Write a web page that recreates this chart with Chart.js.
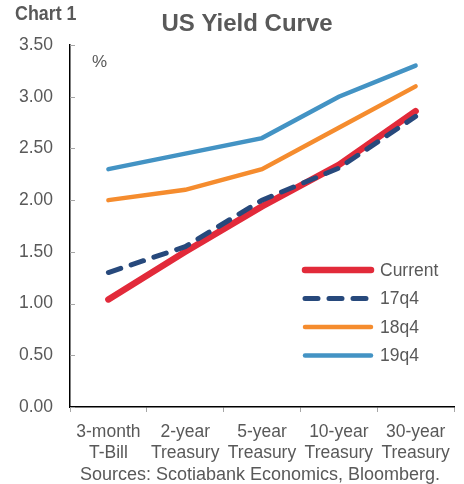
<!DOCTYPE html>
<html>
<head>
<meta charset="utf-8">
<script src="https://cdn.jsdelivr.net/npm/chart.js@4"></script>
<style>
  html, body { margin: 0; padding: 0; background: #fff; }
  #wrap { position: relative; width: 464px; height: 484px; }
</style>
</head>
<body>
<div id="wrap"><canvas id="yieldChart" width="464" height="484"></canvas></div>
<script>
// data
const tenors = [["3-month", "T-Bill"], ["2-year", "Treasury"], ["5-year", "Treasury"], ["10-year", "Treasury"], ["30-year", "Treasury"]];
const current = [1.04, 1.50, 1.94, 2.34, 2.86];
const q417 = [1.30, 1.55, 2.00, 2.31, 2.81];
const q418 = [2.00, 2.10, 2.30, 2.70, 3.10];
const q419 = [2.30, 2.45, 2.60, 3.00, 3.30];

const font = "'Liberation Sans', Arial, sans-serif";
const grey = "#595959";

// titles, % label, y tick marks and the legend inside the plot
const decorations = {
  id: "decorations",
  afterDraw(chart) {
    const ctx = chart.ctx;
    const area = chart.chartArea;
    const y = chart.scales.y;
    ctx.save();

    ctx.fillStyle = grey;
    ctx.textBaseline = "alphabetic";
    ctx.font = "bold 21px " + font;
    ctx.textAlign = "left";
    ctx.save();
    ctx.scale(0.85, 1);
    ctx.fillText("Chart 1", 15 / 0.85, 20);
    ctx.restore();

    ctx.font = "bold 24px " + font;
    ctx.textAlign = "center";
    ctx.fillText("US Yield Curve", 247, 31);

    ctx.font = "17px " + font;
    ctx.textAlign = "left";
    ctx.fillText("%", 92, 67);

    ctx.font = "18px " + font;
    ctx.textAlign = "center";
    ctx.fillText("Sources: Scotiabank Economics, Bloomberg.", 260, 480);

    // inward tick marks on the y axis
    ctx.strokeStyle = "#a6a6a6";
    ctx.lineWidth = 1;
    y.ticks.forEach((t) => {
      const py = Math.round(y.getPixelForValue(t.value)) + 0.5;
      ctx.beginPath();
      ctx.moveTo(area.left, py);
      ctx.lineTo(area.left + 5, py);
      ctx.stroke();
    });

    // legend
    ctx.font = "17.5px " + font;
    ctx.textAlign = "left";
    ctx.textBaseline = "middle";
    chart.data.datasets.forEach((ds, i) => {
      const ly = 270 + i * 28.5;
      ctx.strokeStyle = ds.borderColor;
      ctx.lineWidth = ds.borderWidth;
      ctx.lineCap = "round";
      ctx.setLineDash(ds.borderDash || []);
      ctx.beginPath();
      ctx.moveTo(305, ly);
      ctx.lineTo(371, ly);
      ctx.stroke();
      ctx.setLineDash([]);
      ctx.fillStyle = grey;
      ctx.fillText(ds.label, 380, ly + 1);
    });

    ctx.restore();
  },
};

new Chart(document.getElementById("yieldChart"), {
  type: "line",
  data: {
    labels: tenors,
    datasets: [
      { label: "Current", data: current, borderColor: "#e22a3a", borderWidth: 6.5 },
      { label: "17q4", data: q417, borderColor: "#27497c", borderWidth: 5, borderDash: [13, 11] },
      { label: "18q4", data: q418, borderColor: "#f58c2e", borderWidth: 4.5 },
      { label: "19q4", data: q419, borderColor: "#4393c4", borderWidth: 4.5 },
    ].map((d, i) => ({ ...d, pointRadius: 0, tension: 0, fill: false, order: 3 - i, borderCapStyle: "round" })),
  },
  plugins: [decorations],
  options: {
    responsive: false,
    animation: false,
    layout: { padding: { top: 45, right: 10, bottom: 22, left: 0 } },
    plugins: {
      legend: { display: false },
      title: { display: false },
      tooltip: { enabled: false },
    },
    scales: {
      x: {
        offset: true,
        afterFit: (s) => { s.height = 55; },
        grid: {
          offset: true,
          drawOnChartArea: false,
          drawTicks: true,
          tickLength: 5,
          tickColor: "#a6a6a6",
        },
        border: { color: "#000", width: 1.5 },
        ticks: { color: grey, font: { family: font, size: 17.5, lineHeight: 1.2 }, maxRotation: 0, autoSkip: false, padding: 10 },
      },
      y: {
        min: 0,
        max: 3.5,
        afterFit: (s) => { s.width = 70; },
        grid: { drawOnChartArea: false, drawTicks: false },
        border: { color: "#000", width: 1.5 },
        ticks: {
          stepSize: 0.5,
          color: grey,
          padding: 17,
          font: { family: font, size: 17.5 },
          callback: (v) => Number(v).toFixed(2),
        },
      },
    },
  },
});
</script>
</body>
</html>
